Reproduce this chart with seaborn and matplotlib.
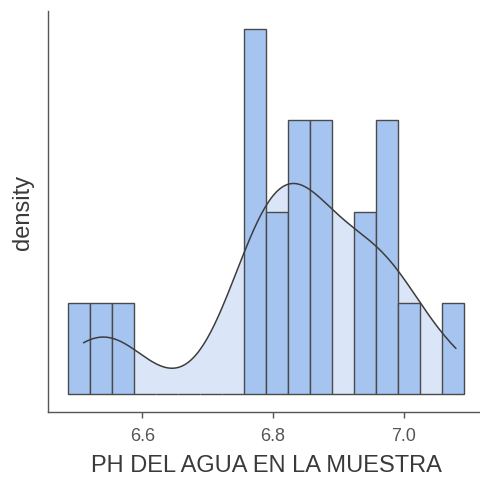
import numpy as np
import pandas as pd
import matplotlib
matplotlib.use("Agg")
import matplotlib.pyplot as plt
import seaborn as sns

# valores de pH (22 muestras)
ph_values = [
    6.51, 6.54, 6.57,
    6.76, 6.77, 6.78, 6.78,
    6.80, 6.81,
    6.83, 6.84, 6.85,
    6.86, 6.87, 6.88,
    6.93, 6.95,
    6.96, 6.97, 6.98,
    7.01,
    7.08,
]
bin_start = 6.486
bin_width = 0.0337
n_bins = 18

x_label = "PH DEL AGUA EN LA MUESTRA"
y_label = "density"
x_ticks = [6.6, 6.8, 7.0]
x_ticklabels = ["6.6", "6.8", "7.0"]

bar_color = "#a6c4f0"
kde_fill = "#dae5f7"
edge_color = "#4a4a4a"


def main():
    df = pd.DataFrame({"ph": ph_values})

    sns.set_theme(style="white")
    plt.rcParams["font.family"] = ["Liberation Sans", "DejaVu Sans"]

    fig = plt.figure(figsize=(4.8, 4.81), dpi=100)
    ax = fig.add_axes([48 / 480, 1 - 413 / 481, 436 / 480, (413 - 12) / 481])

    # ancho de banda tipo bw.nrd0
    x = np.asarray(ph_values)
    sd = x.std(ddof=1)
    iqr = np.subtract(*np.percentile(x, [75, 25]))
    bw_adj = 0.9 * min(sd, iqr / 1.34) / sd

    sns.kdeplot(data=df, x="ph", ax=ax, cut=0, fill=True, color=kde_fill,
                alpha=1, linewidth=0, bw_adjust=bw_adj, zorder=1)
    sns.histplot(data=df, x="ph", ax=ax, stat="density",
                 binwidth=bin_width,
                 binrange=(bin_start, bin_start + n_bins * bin_width),
                 color=bar_color, alpha=1, edgecolor=edge_color,
                 linewidth=1.0, zorder=2)
    sns.kdeplot(data=df, x="ph", ax=ax, cut=0, color="#3d3d3d",
                linewidth=1.1, bw_adjust=bw_adj, zorder=3)

    ymax = max(p.get_height() for p in ax.patches)
    ax.set_ylim(-0.05 * ymax, 1.05 * ymax)
    lo = bin_start
    hi = bin_start + n_bins * bin_width
    span = hi - lo
    ax.set_xlim(lo - 0.05 * span, hi + 0.05 * span)

    ax.set_xticks(x_ticks)
    ax.set_xticklabels(x_ticklabels)
    ax.set_yticks([])
    ax.tick_params(axis="x", bottom=True, length=4, width=1, color="#555555",
                   labelcolor="#555555", labelsize=13, pad=7)

    for side in ["top", "right"]:
        ax.spines[side].set_visible(False)
    for side in ["left", "bottom"]:
        ax.spines[side].set_color("#555555")
        ax.spines[side].set_linewidth(1.0)

    ax.set_xlabel(x_label, fontsize=17, color="#3a3a3a", labelpad=7)
    ax.set_ylabel(y_label, fontsize=17, color="#3a3a3a", labelpad=10)

    fig.savefig("out.png", dpi=100)
    plt.close(fig)


if __name__ == "__main__":
    main()
